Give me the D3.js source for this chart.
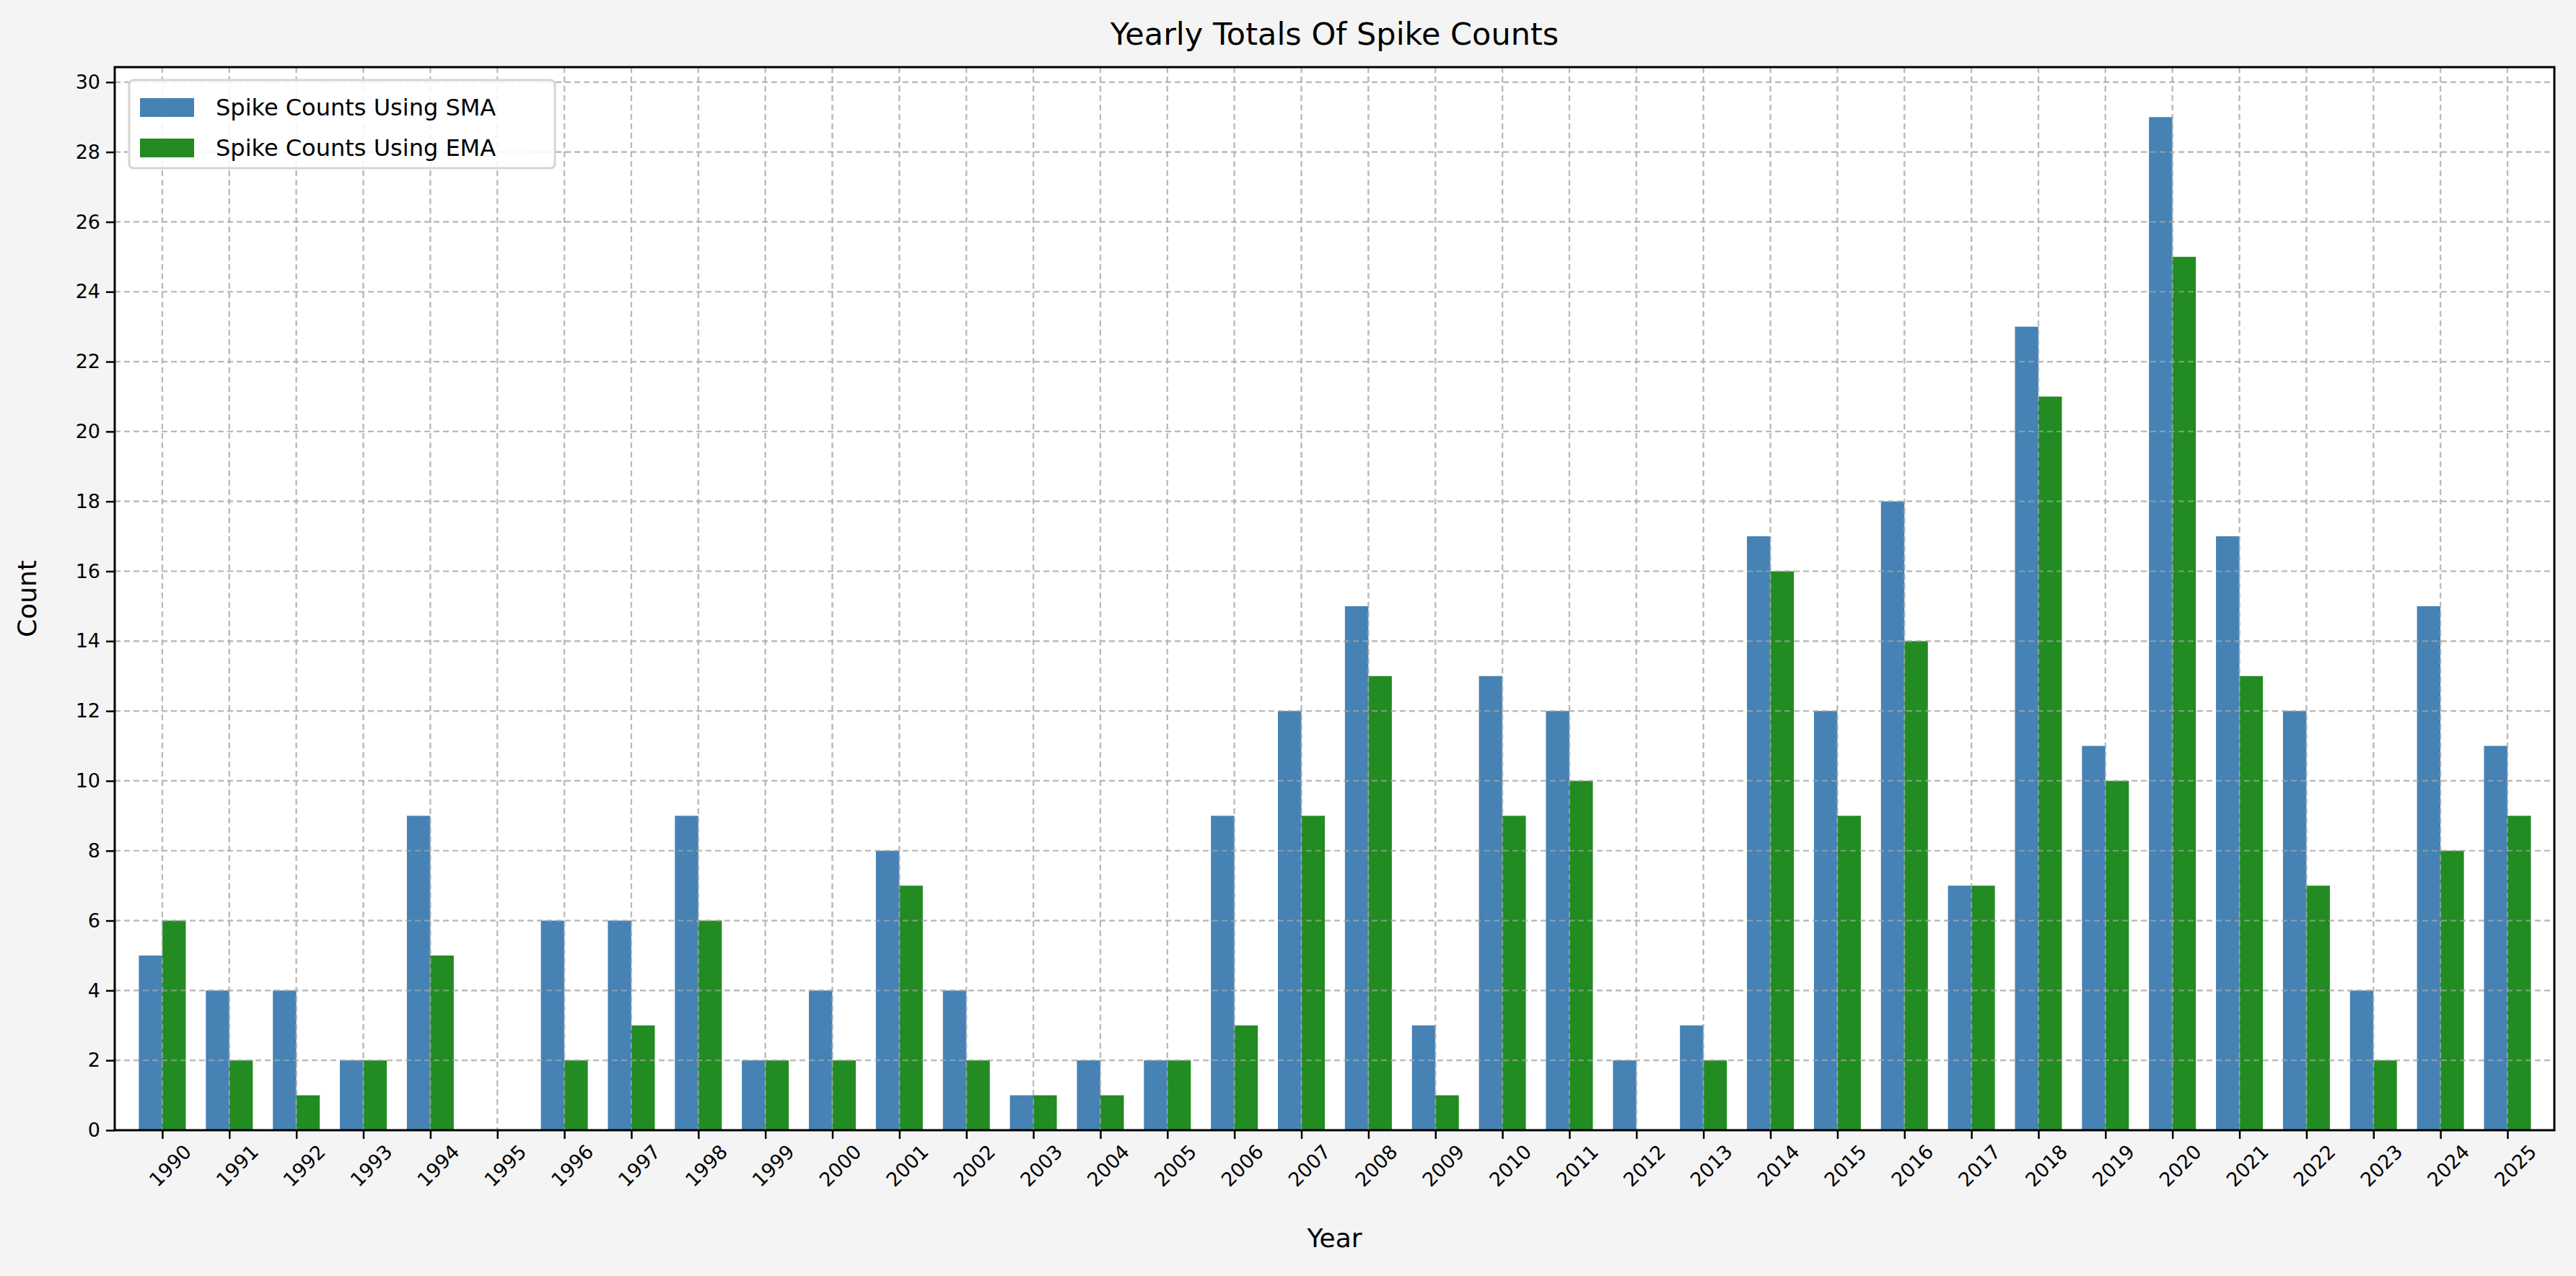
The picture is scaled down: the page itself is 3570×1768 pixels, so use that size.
<!DOCTYPE html>
<html><head><meta charset="utf-8">
<script src="https://cdn.jsdelivr.net/npm/d3@7"></script>
<style>body{margin:0;background:#f4f4f4}text{font-family:"DejaVu Sans",sans-serif}</style>
</head><body><svg id="chart" width="3570" height="1768"></svg>
<script>
const years = d3.range(1990, 2026);
const smaCounts = [5,4,4,2,9,0,6,6,9,2,4,8,4,1,2,2,9,12,15,3,13,12,2,3,17,12,18,7,23,11,29,17,12,4,15,11];
const emaCounts = [6,2,1,2,5,0,2,3,6,2,2,7,2,1,1,2,3,9,13,1,9,10,0,2,16,9,14,7,21,10,25,13,7,2,8,9];
const yTicks = d3.range(0, 31, 2);

const W = 3570, H = 1768;
const m = {left: 159, right: 30, top: 93, bottom: 202};
const svg = d3.select('#chart');
svg.append('rect').attr('width', W).attr('height', H).attr('fill', '#f4f4f4');

const x = d3.scaleLinear().domain([-0.71, 35.7]).range([m.left, W - m.right]);
const y = d3.scaleLinear().domain([0, 30.43]).range([H - m.bottom, m.top]);
const bw = x(0.35) - x(0);

const g = svg.append('g');
g.append('rect').attr('x', m.left).attr('y', m.top)
    .attr('width', W - m.left - m.right).attr('height', H - m.top - m.bottom).attr('fill', '#fff');

// grid
g.selectAll('.gx').data(years).enter().append('line')
    .attr('x1', (d, i) => x(i)).attr('x2', (d, i) => x(i))
    .attr('y1', m.top).attr('y2', H - m.bottom)
    .attr('stroke', '#b0b0b0').attr('stroke-opacity', 0.7).attr('stroke-width', 2.2).attr('stroke-dasharray', '8,5');
g.selectAll('.gy').data(yTicks).enter().append('line')
    .attr('x1', m.left).attr('x2', W - m.right)
    .attr('y1', d => y(d)).attr('y2', d => y(d))
    .attr('stroke', '#b0b0b0').attr('stroke-opacity', 0.7).attr('stroke-width', 2.2).attr('stroke-dasharray', '8,5');

// bars
g.selectAll('.sma').data(smaCounts).enter().append('rect')
    .attr('x', (d, i) => x(i) - bw).attr('width', bw)
    .attr('y', d => y(d)).attr('height', d => y(0) - y(d)).attr('fill', '#4682b4');
g.selectAll('.ema').data(emaCounts).enter().append('rect')
    .attr('x', (d, i) => x(i)).attr('width', bw)
    .attr('y', d => y(d)).attr('height', d => y(0) - y(d)).attr('fill', '#228b22');

// grid drawn again on top (matplotlib draws grid above bars here)
g.selectAll('.gx2').data(years).enter().append('line')
    .attr('x1', (d, i) => x(i)).attr('x2', (d, i) => x(i))
    .attr('y1', m.top).attr('y2', H - m.bottom)
    .attr('stroke', '#b0b0b0').attr('stroke-opacity', 0.6).attr('stroke-width', 2.2).attr('stroke-dasharray', '8,5');
g.selectAll('.gy2').data(yTicks).enter().append('line')
    .attr('x1', m.left).attr('x2', W - m.right)
    .attr('y1', d => y(d)).attr('y2', d => y(d))
    .attr('stroke', '#b0b0b0').attr('stroke-opacity', 0.6).attr('stroke-width', 2.2).attr('stroke-dasharray', '8,5');

// axes
const xAxis = svg.append('g').attr('transform', `translate(0,${H - m.bottom})`)
    .call(d3.axisBottom(x).tickValues(d3.range(36)).tickFormat(i => years[i]).tickSize(12).tickPadding(8));
xAxis.selectAll('text').attr('font-size', 27).attr('text-anchor', 'end')
    .attr('transform', 'translate(14,4) rotate(-45)').attr('dy', '0.7em');
const yAxis = svg.append('g').attr('transform', `translate(${m.left},0)`)
    .call(d3.axisLeft(y).tickValues(yTicks).tickSize(12).tickPadding(8));
yAxis.selectAll('text').attr('font-size', 27);
[xAxis, yAxis].forEach(a => { a.select('.domain').remove(); a.selectAll('line').attr('stroke-width', 2.5); });

svg.append('rect').attr('x', m.left).attr('y', m.top)
    .attr('width', W - m.left - m.right).attr('height', H - m.top - m.bottom)
    .attr('fill', 'none').attr('stroke', '#000').attr('stroke-width', 3);

// labels
svg.append('text').attr('x', (m.left + W - m.right) / 2).attr('y', 62).attr('text-anchor', 'middle')
    .attr('font-size', 43).text('Yearly Totals Of Spike Counts');
svg.append('text').attr('x', (m.left + W - m.right) / 2).attr('y', 1728).attr('text-anchor', 'middle')
    .attr('font-size', 36).text('Year');
svg.append('text').attr('transform', `translate(50,${(m.top + H - m.bottom) / 2}) rotate(-90)`)
    .attr('text-anchor', 'middle').attr('font-size', 36).text('Count');

// legend
const lg = svg.append('g').attr('transform', 'translate(179,111)');
lg.append('rect').attr('width', 590).attr('height', 122).attr('rx', 6)
    .attr('fill', '#fff').attr('fill-opacity', 0.85).attr('stroke', '#d5d5d5').attr('stroke-width', 3);
const series = [['Spike Counts Using SMA', '#4682b4'], ['Spike Counts Using EMA', '#228b22']];
series.forEach(([name, c], i) => {
    lg.append('rect').attr('x', 15).attr('y', 25 + i * 56).attr('width', 75).attr('height', 26).attr('fill', c);
    lg.append('text').attr('x', 120).attr('y', 49 + i * 56).attr('font-size', 32).text(name);
});
</script></body></html>
